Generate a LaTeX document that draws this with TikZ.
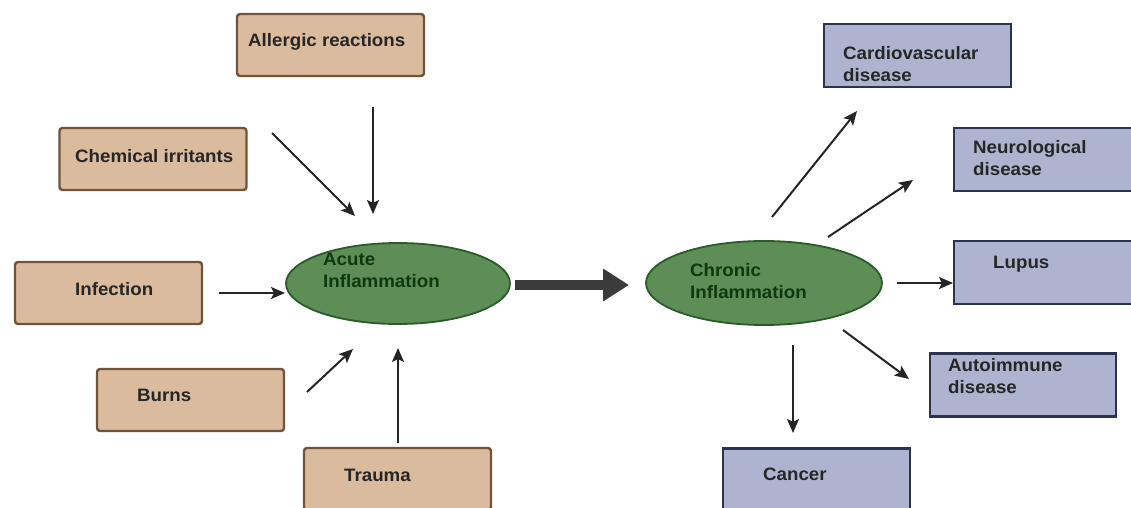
\documentclass[tikz,border=0pt]{standalone}
\usepackage{fontspec}
\setmainfont{Liberation Sans}[BoldFeatures={FakeStretch=1.04}]
\usetikzlibrary{arrows.meta,shapes.geometric}
\definecolor{tanfill}{HTML}{DBBB9E}
\definecolor{tanline}{HTML}{6E5438}
\definecolor{bluefill}{HTML}{AEB4CF}
\definecolor{blueline}{HTML}{2B3350}
\definecolor{ellfill}{HTML}{5C8E55}
\definecolor{ellline}{HTML}{2D5A2A}
\definecolor{elltext}{HTML}{103810}
\definecolor{arrowc}{HTML}{252525}
\begin{document}
\begin{tikzpicture}[x=1pt,y=-1pt,
  causebox/.style={draw=tanline,fill=tanfill,line width=2.4pt,rounded corners=3pt,minimum width=187pt,minimum height=62pt,inner sep=0pt},
  diseasebox/.style={draw=blueline,fill=bluefill,line width=2.2pt,minimum width=187pt,minimum height=63pt,inner sep=0pt},
  lbl/.style={anchor=west,inner sep=0pt,font=\fontsize{18}{22}\selectfont\bfseries,text=black!85,align=left},
  elllbl/.style={anchor=west,inner sep=0pt,font=\fontsize{18}{22}\selectfont\bfseries,text=elltext,align=left},
  inflam/.style={ellipse,draw=ellline,fill=ellfill,line width=1.8pt,inner sep=0pt},
  thin/.style={draw=arrowc,line width=2pt,-{Stealth[length=14pt,width=12pt,inset=3pt]}},
  big/.style={draw=arrowc!90,line width=9.5pt,-{Triangle[length=26pt,width=31pt]}}]
\useasboundingbox (0,0) rectangle (1131,508);
\fill[white] (0,0) rectangle (1131,508);
% cause boxes
\node[causebox] (allergic) at (330.5,45) {};
\node[lbl] (allergic-t) at (248,42) {Allergic reactions};
\node[causebox] (chemical) at (153,159) {};
\node[lbl] (chemical-t) at (75,156) {Chemical irritants};
\node[causebox] (infection) at (108.5,293) {};
\node[lbl] (infection-t) at (75,289) {Infection};
\node[causebox] (burns) at (190.5,400) {};
\node[lbl] (burns-t) at (137,395) {Burns};
\node[causebox] (trauma) at (397.5,479) {};
\node[lbl] (trauma-t) at (344,475) {Trauma};
% ellipses
\node[inflam,minimum width=224pt,minimum height=81pt] (acute) at (398,283.5) {};
\node[elllbl] (acute-t) at (323,270) {Acute\\Inflammation};
\node[inflam,minimum width=236pt,minimum height=84pt] (chronic) at (764,283) {};
\node[elllbl] (chronic-t) at (690,281) {Chronic\\Inflammation};
% disease boxes
\node[diseasebox] (cardio) at (917.5,55.5) {};
\node[lbl] (cardio-t) at (843,64) {Cardiovascular\\disease};
\node[diseasebox,minimum width=190pt] (neuro) at (1049,159.5) {};
\node[lbl] (neuro-t) at (973,158) {Neurological\\disease};
\node[diseasebox,minimum width=190pt] (lupus) at (1049,272.5) {};
\node[lbl] (lupus-t) at (993,264) {Lupus};
\node[diseasebox,minimum width=186pt] (autoimmune) at (1023,385) {};
\node[lbl] (autoimmune-t) at (948,376) {Autoimmune\\disease};
\node[diseasebox] (cancer) at (816.5,480) {};
\node[lbl] (cancer-t) at (763,474) {Cancer};
% arrow endpoints
\coordinate (a1s) at (373,107); \coordinate (a1e) at (373,214);
\coordinate (a2s) at (272,133); \coordinate (a2e) at (355,216);
\coordinate (a3s) at (219,293); \coordinate (a3e) at (285,293);
\coordinate (a4s) at (307,392); \coordinate (a4e) at (353,349);
\coordinate (a5s) at (398,443); \coordinate (a5e) at (398,348);
\coordinate (bs) at (515,285); \coordinate (be) at (629,285);
\coordinate (c1s) at (772,217); \coordinate (c1e) at (857,111);
\coordinate (c2s) at (828,237); \coordinate (c2e) at (913,180);
\coordinate (c3s) at (897,283); \coordinate (c3e) at (953,283);
\coordinate (c4s) at (843,330); \coordinate (c4e) at (909,379);
\coordinate (c5s) at (793,345); \coordinate (c5e) at (793,433);
\draw[thin] (a1s) -- (a1e);
\draw[thin] (a2s) -- (a2e);
\draw[thin] (a3s) -- (a3e);
\draw[thin] (a4s) -- (a4e);
\draw[thin] (a5s) -- (a5e);
\draw[big] (bs) -- (be);
\draw[thin] (c1s) -- (c1e);
\draw[thin] (c2s) -- (c2e);
\draw[thin] (c3s) -- (c3e);
\draw[thin] (c4s) -- (c4e);
\draw[thin] (c5s) -- (c5e);
\end{tikzpicture}
\end{document}
